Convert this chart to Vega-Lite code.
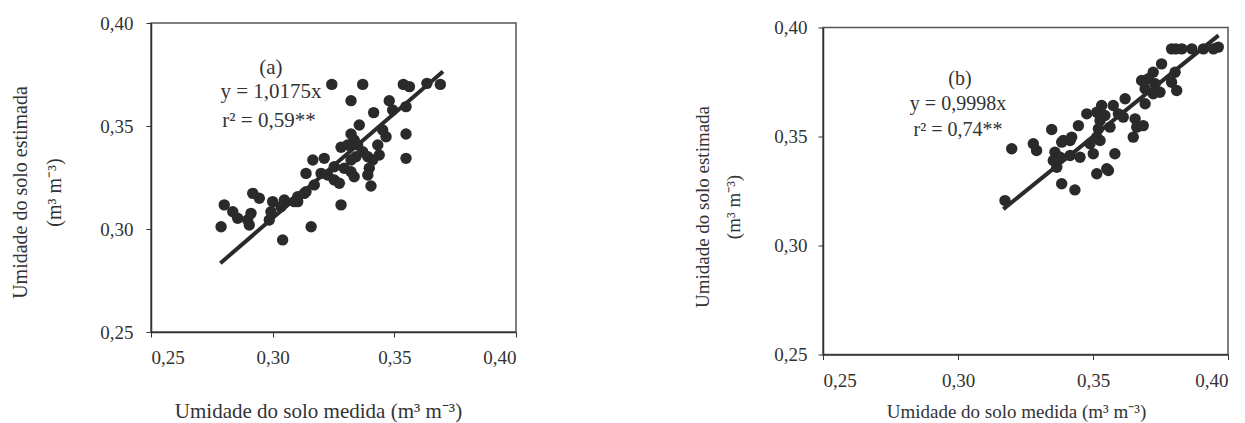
{
  "$schema": "https://vega.github.io/schema/vega-lite/v6.json",
  "padding": {"left": 10, "top": 13, "right": 5, "bottom": 5},
  "background": "white",
  "config": {
    "font": "Liberation Serif",
    "view": {"stroke": "#555", "strokeWidth": 1.5},
    "axis": {
      "grid": false,
      "domainColor": "#333",
      "domainWidth": 1.5,
      "tickColor": "#333",
      "tickSize": 5,
      "labelColor": "#333",
      "titleColor": "#333",
      "labelFont": "Liberation Serif",
      "titleFont": "Liberation Serif",
      "labelFontSize": 19,
      "titleFontWeight": "normal",
      "labelExpr": "replace(format(datum.value, '.2f'), '.', ',')"
    }
  },
  "datasets": {
    "a": [
      {"x": 0.3243, "y": 0.3702}, {"x": 0.3370, "y": 0.3702}, {"x": 0.3537, "y": 0.3702}, {"x": 0.3562, "y": 0.3691},
      {"x": 0.3634, "y": 0.3707}, {"x": 0.3689, "y": 0.3702}, {"x": 0.3322, "y": 0.3623}, {"x": 0.3479, "y": 0.3623},
      {"x": 0.3415, "y": 0.3565}, {"x": 0.3548, "y": 0.3594}, {"x": 0.3493, "y": 0.3578}, {"x": 0.3356, "y": 0.3505},
      {"x": 0.3548, "y": 0.3461}, {"x": 0.3322, "y": 0.3461}, {"x": 0.3335, "y": 0.3432}, {"x": 0.3452, "y": 0.3481},
      {"x": 0.3466, "y": 0.3448}, {"x": 0.3432, "y": 0.3408}, {"x": 0.3281, "y": 0.3397}, {"x": 0.3308, "y": 0.3408},
      {"x": 0.3349, "y": 0.3408}, {"x": 0.3370, "y": 0.3375}, {"x": 0.3391, "y": 0.3351}, {"x": 0.3548, "y": 0.3343},
      {"x": 0.3438, "y": 0.3359}, {"x": 0.3411, "y": 0.3335}, {"x": 0.3322, "y": 0.3335}, {"x": 0.3342, "y": 0.3351},
      {"x": 0.3165, "y": 0.3335}, {"x": 0.3212, "y": 0.3343}, {"x": 0.3253, "y": 0.3302}, {"x": 0.3294, "y": 0.3295},
      {"x": 0.3322, "y": 0.3278}, {"x": 0.3335, "y": 0.3254}, {"x": 0.3397, "y": 0.3295}, {"x": 0.3391, "y": 0.3262},
      {"x": 0.3199, "y": 0.3270}, {"x": 0.3226, "y": 0.3262}, {"x": 0.3253, "y": 0.3238}, {"x": 0.3274, "y": 0.3222},
      {"x": 0.3404, "y": 0.3209}, {"x": 0.3171, "y": 0.3214}, {"x": 0.3137, "y": 0.3181}, {"x": 0.3103, "y": 0.3157},
      {"x": 0.3281, "y": 0.3117}, {"x": 0.2801, "y": 0.3117}, {"x": 0.2836, "y": 0.3084}, {"x": 0.2856, "y": 0.3052},
      {"x": 0.2897, "y": 0.3044}, {"x": 0.2911, "y": 0.3076}, {"x": 0.2904, "y": 0.3019}, {"x": 0.2788, "y": 0.3011},
      {"x": 0.2918, "y": 0.3173}, {"x": 0.2945, "y": 0.3149}, {"x": 0.3000, "y": 0.3133}, {"x": 0.3048, "y": 0.3141},
      {"x": 0.3034, "y": 0.3108}, {"x": 0.2993, "y": 0.3084}, {"x": 0.2986, "y": 0.3044}, {"x": 0.3103, "y": 0.3133},
      {"x": 0.3130, "y": 0.3173}, {"x": 0.3137, "y": 0.3270}, {"x": 0.3158, "y": 0.3011}, {"x": 0.3041, "y": 0.2947},
      {"x": 0.3089, "y": 0.3133}
    ],
    "b": [
      {"x": 0.3791, "y": 0.3902}, {"x": 0.3807, "y": 0.3902}, {"x": 0.3829, "y": 0.3902}, {"x": 0.3866, "y": 0.3902},
      {"x": 0.3909, "y": 0.3902}, {"x": 0.3946, "y": 0.3902}, {"x": 0.3964, "y": 0.3910}, {"x": 0.3754, "y": 0.3833},
      {"x": 0.3723, "y": 0.3795}, {"x": 0.3705, "y": 0.3765}, {"x": 0.3804, "y": 0.3795}, {"x": 0.3680, "y": 0.3757},
      {"x": 0.3693, "y": 0.3719}, {"x": 0.3730, "y": 0.3742}, {"x": 0.3748, "y": 0.3703}, {"x": 0.3723, "y": 0.3696},
      {"x": 0.3791, "y": 0.3749}, {"x": 0.3810, "y": 0.3711}, {"x": 0.3619, "y": 0.3673}, {"x": 0.3693, "y": 0.3650},
      {"x": 0.3575, "y": 0.3642}, {"x": 0.3594, "y": 0.3604}, {"x": 0.3532, "y": 0.3642}, {"x": 0.3514, "y": 0.3611},
      {"x": 0.3477, "y": 0.3604}, {"x": 0.3526, "y": 0.3573}, {"x": 0.3544, "y": 0.3596}, {"x": 0.3563, "y": 0.3543},
      {"x": 0.3612, "y": 0.3589}, {"x": 0.3656, "y": 0.3581}, {"x": 0.3662, "y": 0.3543}, {"x": 0.3649, "y": 0.3497},
      {"x": 0.3520, "y": 0.3535}, {"x": 0.3514, "y": 0.3497}, {"x": 0.3446, "y": 0.3550}, {"x": 0.3347, "y": 0.3532},
      {"x": 0.3421, "y": 0.3497}, {"x": 0.3390, "y": 0.3482}, {"x": 0.3526, "y": 0.3482}, {"x": 0.3489, "y": 0.3467},
      {"x": 0.3279, "y": 0.3467}, {"x": 0.3291, "y": 0.3436}, {"x": 0.3199, "y": 0.3444}, {"x": 0.3359, "y": 0.3428},
      {"x": 0.3378, "y": 0.3405}, {"x": 0.3353, "y": 0.3390}, {"x": 0.3366, "y": 0.3359}, {"x": 0.3415, "y": 0.3413},
      {"x": 0.3452, "y": 0.3405}, {"x": 0.3501, "y": 0.3421}, {"x": 0.3581, "y": 0.3421}, {"x": 0.3551, "y": 0.3352},
      {"x": 0.3514, "y": 0.3329}, {"x": 0.3384, "y": 0.3283}, {"x": 0.3433, "y": 0.3255}, {"x": 0.3174, "y": 0.3206},
      {"x": 0.3384, "y": 0.3474}, {"x": 0.3415, "y": 0.3482}, {"x": 0.3686, "y": 0.3550}, {"x": 0.3557, "y": 0.3344}
    ],
    "lineA": [{"x": 0.2785, "y": 0.2834}, {"x": 0.3700, "y": 0.3765}],
    "lineB": [{"x": 0.3168, "y": 0.3167}, {"x": 0.3965, "y": 0.3964}],
    "txtA": [
      {"x": 0.2993, "y": 0.3782, "label": "(a)"},
      {"x": 0.2993, "y": 0.3665, "label": "y = 1,0175x"},
      {"x": 0.2985, "y": 0.3522, "label": "r² = 0,59**"}
    ],
    "txtB": [
      {"x": 0.3007, "y": 0.3766, "label": "(b)"},
      {"x": 0.3000, "y": 0.3651, "label": "y = 0,9998x"},
      {"x": 0.3000, "y": 0.3532, "label": "r² = 0,74**"}
    ]
  },
  "spacing": 175,
  "hconcat": [
    {
      "width": 365,
      "height": 309,
      "encoding": {
        "x": {
          "field": "x", "type": "quantitative",
          "scale": {"domain": [0.25, 0.40], "nice": false, "zero": false},
          "axis": {"values": [0.25, 0.30, 0.35, 0.40], "title": "Umidade do solo medida (m³ m⁻³)", "titleFontSize": 21, "titleX": 167, "labelPadding": 11, "titlePadding": 33}
        },
        "y": {
          "field": "y", "type": "quantitative",
          "scale": {"domain": [0.25, 0.40], "nice": false, "zero": false},
          "axis": {"values": [0.25, 0.30, 0.35, 0.40], "title": ["Umidade do solo estimada", "(m³ m⁻³)"], "titleFontSize": 20, "titleLineHeight": 34, "titleY": 169, "labelPadding": 13, "titlePadding": 35}
        }
      },
      "layer": [
        {"data": {"name": "a"}, "mark": {"type": "circle", "size": 130, "color": "#2a2a2a", "opacity": 1}},
        {"data": {"name": "lineA"}, "mark": {"type": "line", "color": "#2a2a2a", "strokeWidth": 4}},
        {"data": {"name": "txtA"}, "mark": {"type": "text", "fontSize": 21, "color": "#333", "font": "Liberation Serif"}, "encoding": {"text": {"field": "label"}}}
      ]
    },
    {
      "spacing": -6.5,
      "vconcat": [
        {
          "width": 405,
          "height": 1,
          "view": {"stroke": null},
          "data": {"values": []},
          "mark": {"type": "point", "opacity": 0},
          "encoding": {}
        },
        {
          "width": 405,
          "height": 327,
          "encoding": {
            "x": {
              "field": "x", "type": "quantitative",
              "scale": {"domain": [0.25, 0.40], "nice": false, "zero": false},
              "axis": {"values": [0.25, 0.30, 0.35, 0.40], "title": "Umidade do solo medida (m³ m⁻³)", "titleFontSize": 19, "titleX": 193, "labelPadding": 12, "titlePadding": 12}
            },
            "y": {
              "field": "y", "type": "quantitative",
              "scale": {"domain": [0.25, 0.40], "nice": false, "zero": false},
              "axis": {"values": [0.25, 0.30, 0.35, 0.40], "title": ["Umidade do solo estimada", "(m³ m⁻³)"], "titleFontSize": 19, "titleLineHeight": 31, "titleY": 179, "labelPadding": 11, "titlePadding": 30}
            }
          },
          "layer": [
            {"data": {"name": "b"}, "mark": {"type": "circle", "size": 130, "color": "#2a2a2a", "opacity": 1}},
            {"data": {"name": "lineB"}, "mark": {"type": "line", "color": "#2a2a2a", "strokeWidth": 4}},
            {"data": {"name": "txtB"}, "mark": {"type": "text", "fontSize": 20, "color": "#333", "font": "Liberation Serif"}, "encoding": {"text": {"field": "label"}}}
          ]
        }
      ]
    }
  ]
}
